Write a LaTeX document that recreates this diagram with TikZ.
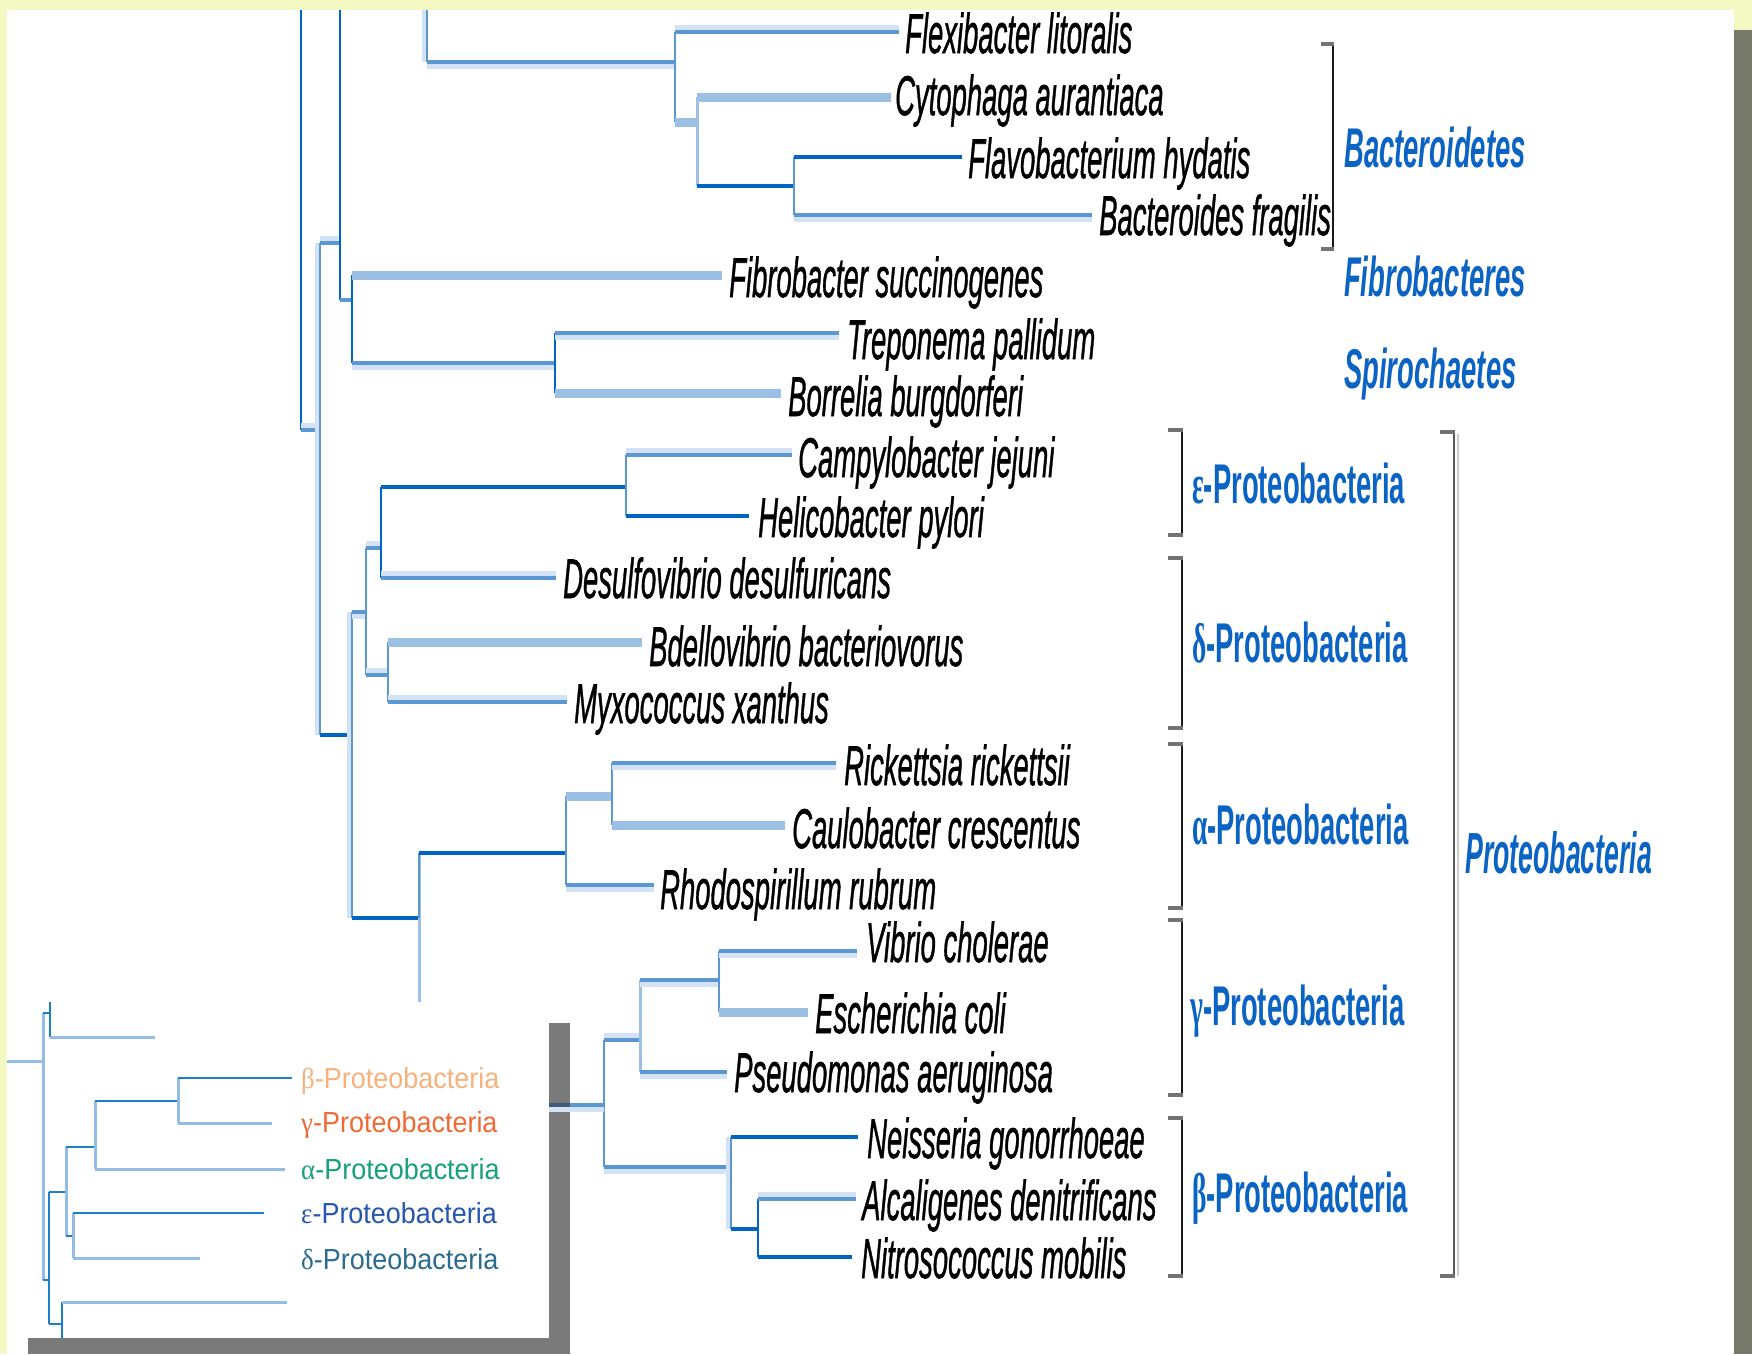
\documentclass[tikz,border=0pt]{standalone}
\usepackage{fontspec}
\setmainfont{Liberation Sans}
\newfontfamily\gkfont{Liberation Serif}
\newfontfamily\spfont[FakeBold=1.2]{Liberation Sans}
\usepackage{graphicx}
\definecolor{bgyel}{HTML}{F4F9C3}
\definecolor{rshad}{HTML}{76786A}
\definecolor{ishad}{HTML}{7A7A7A}
\definecolor{dkb}{HTML}{0066C4}
\definecolor{mdb}{HTML}{5A97D3}
\definecolor{ltb}{HTML}{9CC0E4}
\definecolor{ghost}{HTML}{D3E3F5}
\definecolor{labblue}{HTML}{0B63C4}
\definecolor{iblue}{HTML}{1B7FD0}
\definecolor{ilight}{HTML}{93BDE5}
\definecolor{cbeta}{HTML}{F6B27C}
\definecolor{cgam}{HTML}{F06A35}
\definecolor{calp}{HTML}{17A07E}
\definecolor{ceps}{HTML}{2657AD}
\definecolor{cdel}{HTML}{2B6C8E}
\newcommand{\spn}[1]{\scalebox{0.49}[1]{\fontsize{56}{60}\spfont\itshape #1}}
\newcommand{\grpn}[1]{\scalebox{0.49}[1]{\fontsize{56}{60}\selectfont\bfseries\itshape #1}}
\newcommand{\prtn}[1]{\scalebox{0.49}[1]{\fontsize{56}{60}\selectfont\bfseries{\gkfont #1}-Proteobacteria}}
\newcommand{\insn}[1]{\scalebox{0.93}[1]{\fontsize{29}{32}\selectfont{\gkfont #1}-Proteobacteria}}
\tikzset{
  vd/.style={draw=dkb, line width=2.5pt},
  vm/.style={draw=mdb, line width=2.5pt},
  vl/.style={draw=ltb, line width=3pt},
  hd/.style={draw=dkb, line width=4pt},
  hm/.style={draw=mdb, line width=4.5pt},
  hl/.style={draw=ltb, line width=9pt},
  gb/.style={preaction={draw=ghost, line width=5pt, transform canvas={yshift=-4.5pt}}},
  ga/.style={preaction={draw=ghost, line width=5pt, transform canvas={yshift=4.5pt}}},
  gl/.style={preaction={draw=ghost, line width=4pt, transform canvas={xshift=-3.5pt}}},
  idk/.style={draw=iblue, line width=2.2pt},
  il/.style={draw=ilight, line width=3pt},
  sp/.style={anchor=base west, inner sep=0pt, text=black},
  grp/.style={anchor=base west, inner sep=0pt, text=labblue},
  ilab/.style={anchor=base west, inner sep=0pt},
  vbr/.style={draw=black!90, line width=2.5pt},
  tbr/.style={draw=black!55, line width=4.5pt},
}
\begin{document}
\begin{tikzpicture}[x=1pt,y=-1pt]
\useasboundingbox (0,0) rectangle (1752,1354);
% background and panel
\fill[bgyel] (0,0) rectangle (1752,1354);
\fill[white] (7,10) rectangle (1734,1354);
\fill[rshad] (1734,30) rectangle (1752,1354);

% ---------- coordinates ----------
\coordinate (topA) at (301,10);
\coordinate (topB) at (340,10);
\coordinate (topC) at (427,10);
\coordinate (n320) at (320,430);
\coordinate (n340) at (340,243);
\coordinate (n352a) at (352,300);
\coordinate (n555) at (555,363);
\coordinate (lFib) at (722,275);
\coordinate (lTre) at (839,333);
\coordinate (lBor) at (781,393);
\coordinate (n675) at (675,62);
\coordinate (lFle) at (899,32);
\coordinate (n697) at (697,122);
\coordinate (lCyt) at (891,97);
\coordinate (n794) at (794,186);
\coordinate (lFla) at (962,157);
\coordinate (lBac) at (1092,215);
\coordinate (n352b) at (352,735);
\coordinate (n366) at (366,612);
\coordinate (n381) at (381,548);
\coordinate (n626) at (626,487);
\coordinate (lCam) at (792,455);
\coordinate (lHel) at (749,516);
\coordinate (lDes) at (556,578);
\coordinate (n388) at (388,675);
\coordinate (lBde) at (642,642);
\coordinate (lMyx) at (567,702);
\coordinate (n419) at (419,918);
\coordinate (n566) at (566,853);
\coordinate (n612) at (612,796);
\coordinate (lRic) at (836,763);
\coordinate (lCau) at (785,825);
\coordinate (lRho) at (654,885);
\coordinate (n604) at (604,1105);
\coordinate (n640) at (640,1040);
\coordinate (n719) at (719,980);
\coordinate (lVib) at (857,951);
\coordinate (lEsc) at (808,1012);
\coordinate (lPse) at (727,1072);
\coordinate (n731) at (731,1167);
\coordinate (lNei) at (858,1137);
\coordinate (n758) at (758,1229);
\coordinate (lAlc) at (856,1199);
\coordinate (lNit) at (852,1257);

% ---------- upper tree ----------
\draw[vd] (topA) -- (topA |- n320);
\draw[hm,ga] (topA |- n320) -- (n320);
\draw[vm,gl] (n320 |- n340) -- (n320 |- n352b);
\draw[hm,ga] (n320 |- n340) -- (n340);
\draw[hd] (n320 |- n352b) -- (n352b);
\draw[vd] (topB) -- (n340 |- n352a);
\draw[hm] (n340 |- n352a) -- (n352a);
\draw[vd] (n352a |- lFib) -- (n352a |- n555);
\draw[hl] (n352a |- lFib) -- (lFib);
\draw[hm,gb] (n352a |- n555) -- (n555);
\draw[vd] (n555 |- lTre) -- (n555 |- lBor);
\draw[hm,gb] (n555 |- lTre) -- (lTre);
\draw[hl] (n555 |- lBor) -- (lBor);
\draw[vm,gl] (topC) -- (topC |- n675);
\draw[hm,gb] (topC |- n675) -- (n675);
\draw[vm] (n675 |- lFle) -- (n675 |- n697);
\draw[hm,ga] (n675 |- lFle) -- (lFle);
\draw[hl] (n675 |- n697) -- (n697);
\draw[vl] (n697 |- lCyt) -- (n697 |- n794);
\draw[hl] (n697 |- lCyt) -- (lCyt);
\draw[hd] (n697 |- n794) -- (n794);
\draw[vm] (n794 |- lFla) -- (n794 |- lBac);
\draw[hd] (n794 |- lFla) -- (lFla);
\draw[hm,gb] (n794 |- lBac) -- (lBac);

% ---------- Proteobacteria ----------
\draw[vm,gl] (n352b |- n366) -- (n352b |- n419);
\draw[hm,gb] (n352b |- n366) -- (n366);
\draw[vm] (n366 |- n381) -- (n366 |- n388);
\draw[hm,ga] (n366 |- n381) -- (n381);
\draw[vd] (n381 |- n626) -- (n381 |- lDes);
\draw[hd] (n381 |- n626) -- (n626);
\draw[vm] (n626 |- lCam) -- (n626 |- lHel);
\draw[hm,ga] (n626 |- lCam) -- (lCam);
\draw[hd] (n626 |- lHel) -- (lHel);
\draw[hm,ga] (n381 |- lDes) -- (lDes);
\draw[hm,ga] (n366 |- n388) -- (n388);
\draw[vm] (n388 |- lBde) -- (n388 |- lMyx);
\draw[hl] (n388 |- lBde) -- (lBde);
\draw[hm,ga] (n388 |- lMyx) -- (lMyx);
\draw[hd] (n352b |- n419) -- (n419);
\draw[vl] (n419 |- n566) -- (n419 |- n604);
\draw[vm] (n419 |- n566) -- (n419);
\draw[hd] (n419 |- n566) -- (n566);
\draw[vm] (n566 |- n612) -- (n566 |- lRho);
\draw[hl] (n566 |- n612) -- (n612);
\draw[vm] (n612 |- lRic) -- (n612 |- lCau);
\draw[hm,gb] (n612 |- lRic) -- (lRic);
\draw[hl] (n612 |- lCau) -- (lCau);
\draw[hm,gb] (n566 |- lRho) -- (lRho);
\draw[vm] (n604 |- n640) -- (n604 |- n731);
\draw[hm,ga] (n604 |- n640) -- (n640);
\draw[vl] (n640 |- n719) -- (n640 |- lPse);
\draw[hm,gb] (n640 |- n719) -- (n719);
\draw[vm] (n719 |- lVib) -- (n719 |- lEsc);
\draw[hm,gb] (n719 |- lVib) -- (lVib);
\draw[hl] (n719 |- lEsc) -- (lEsc);
\draw[hm,gb] (n640 |- lPse) -- (lPse);
\draw[hm,gb] (n604 |- n731) -- (n731);
\draw[vm,gl] (n731 |- lNei) -- (n731 |- n758);
\draw[hd] (n731 |- lNei) -- (lNei);
\draw[hd] (n731 |- n758) -- (n758);
\draw[vd] (n758 |- lAlc) -- (n758 |- lNit);
\draw[hm,ga] (n758 |- lAlc) -- (lAlc);
\draw[hd] (n758 |- lNit) -- (lNit);

% ---------- species labels ----------
\node[sp] (tFle) at (905,53) {\spn{Flexibacter litoralis}};
\node[sp] (tCyt) at (895,115) {\spn{Cytophaga aurantiaca}};
\node[sp] (tFla) at (968,178) {\spn{Flavobacterium hydatis}};
\node[sp] (tBac) at (1099,235) {\spn{Bacteroides fragilis}};
\node[sp] (tFib) at (729,297) {\spn{Fibrobacter succinogenes}};
\node[sp] (tTre) at (847,359) {\spn{Treponema pallidum}};
\node[sp] (tBor) at (788,416) {\spn{Borrelia burgdorferi}};
\node[sp] (tCam) at (798,477) {\spn{Campylobacter jejuni}};
\node[sp] (tHel) at (758,537) {\spn{Helicobacter pylori}};
\node[sp] (tDes) at (563,598) {\spn{Desulfovibrio desulfuricans}};
\node[sp] (tBde) at (649,666) {\spn{Bdellovibrio bacteriovorus}};
\node[sp] (tMyx) at (574,723) {\spn{Myxococcus xanthus}};
\node[sp] (tRic) at (844,785) {\spn{Rickettsia rickettsii}};
\node[sp] (tCau) at (792,848) {\spn{Caulobacter crescentus}};
\node[sp] (tRho) at (660,909) {\spn{Rhodospirillum rubrum}};
\node[sp] (tVib) at (866,962) {\spn{Vibrio cholerae}};
\node[sp] (tEsc) at (815,1033) {\spn{Escherichia coli}};
\node[sp] (tPse) at (734,1092) {\spn{Pseudomonas aeruginosa}};
\node[sp] (tNei) at (867,1158) {\spn{Neisseria gonorrhoeae}};
\node[sp] (tAlc) at (862,1220) {\spn{Alcaligenes denitrificans}};
\node[sp] (tNit) at (861,1278) {\spn{Nitrosococcus mobilis}};

% ---------- brackets ----------
\draw[vbr] (1333,44) -- (1333,249);
\draw[tbr] (1321,44) -- (1334,44);
\draw[tbr] (1321,249) -- (1334,249);
\foreach \ya/\yb in {430/535, 558/728, 744/908, 920/1095, 1118/1276}{
  \draw[vbr] (1182,\ya) -- (1182,\yb);
  \draw[tbr] (1168,\ya) -- (1183,\ya);
  \draw[tbr] (1168,\yb) -- (1183,\yb);
}
\draw[draw=black!20, line width=2pt] (1458,434) -- (1458,1276);
\draw[draw=black!65, line width=2.5pt] (1454,432) -- (1454,1276);
\draw[tbr] (1440,432) -- (1455,432);
\draw[tbr] (1440,1276) -- (1455,1276);

% ---------- group labels ----------
\node[grp] (gBac) at (1344,167) {\grpn{Bacteroidetes}};
\node[grp] (gFib) at (1344,296) {\grpn{Fibrobacteres}};
\node[grp] (gSpi) at (1344,388) {\grpn{Spirochaetes}};
\node[grp] (gEps) at (1192,503) {\prtn{ε}};
\node[grp] (gDel) at (1192,662) {\prtn{δ}};
\node[grp] (gAlp) at (1192,844) {\prtn{α}};
\node[grp] (gGam) at (1190,1025) {\prtn{γ}};
\node[grp] (gBet) at (1192,1212) {\prtn{β}};
\node[grp] (gPro) at (1465,873) {\scalebox{0.46}[1]{\fontsize{58}{62}\selectfont\bfseries\itshape Proteobacteria}};

% ---------- inset ----------
\fill[ishad] (28,1023) rectangle (570,1354);
\fill[white] (7,1002) rectangle (549,1338);
\coordinate (insE) at (549,1002);
\coordinate (shE) at (570,1023);
\draw[hm,gb] (insE |- n604) -- (n604);
\draw[draw={rgb,255:red,62;green,91;blue,120}, line width=4.5pt] (insE |- n604) -- (shE |- n604);

\coordinate (iroot) at (7,1061);
\coordinate (i43) at (43,1061);
\coordinate (i50) at (50,1013);
\coordinate (i50top) at (50,1002);
\coordinate (iA) at (155,1037);
\coordinate (i49) at (49,1280);
\coordinate (i66) at (66,1192);
\coordinate (i95) at (95,1147);
\coordinate (i178) at (178,1101);
\coordinate (iBeta) at (292,1078);
\coordinate (iGam) at (272,1123);
\coordinate (iAlp) at (285,1169);
\coordinate (i73) at (73,1236);
\coordinate (iEps) at (264,1213);
\coordinate (iDel) at (200,1258);
\coordinate (i62) at (62,1324);
\coordinate (iB) at (287,1302);
\coordinate (i62bot) at (62,1338);

\draw[il] (iroot) -- (i43);
\draw[il] (i43 |- i50) -- (i43 |- i49);
\draw[idk] (i43 |- i50) -- (i50);
\draw[idk] (i50top) -- (i50 |- iA);
\draw[il] (i50 |- iA) -- (iA);
\draw[idk] (i43 |- i49) -- (i49);
\draw[idk] (i49 |- i66) -- (i49 |- i62);
\draw[idk] (i49 |- i66) -- (i66);
\draw[il] (i66 |- i95) -- (i66 |- i73);
\draw[idk] (i66 |- i95) -- (i95);
\draw[il] (i95 |- i178) -- (i95 |- iAlp);
\draw[idk] (i95 |- i178) -- (i178);
\draw[il] (i178 |- iBeta) -- (i178 |- iGam);
\draw[idk] (i178 |- iBeta) -- (iBeta);
\draw[il] (i178 |- iGam) -- (iGam);
\draw[il] (i95 |- iAlp) -- (iAlp);
\draw[idk] (i66 |- i73) -- (i73);
\draw[il] (i73 |- iEps) -- (i73 |- iDel);
\draw[idk] (i73 |- iEps) -- (iEps);
\draw[il] (i73 |- iDel) -- (iDel);
\draw[idk] (i49 |- i62) -- (i62);
\draw[idk] (i62 |- iB) -- (i62bot);
\draw[il] (i62 |- iB) -- (iB);

\node[ilab, text=cbeta] (iLb) at (301,1088) {\insn{β}};
\node[ilab, text=cgam] (iLg) at (301,1132) {\insn{γ}};
\node[ilab, text=calp] (iLa) at (301,1179) {\insn{α}};
\node[ilab, text=ceps] (iLe) at (301,1223) {\insn{ε}};
\node[ilab, text=cdel] (iLd) at (301,1269) {\insn{δ}};
\end{tikzpicture}
\end{document}
